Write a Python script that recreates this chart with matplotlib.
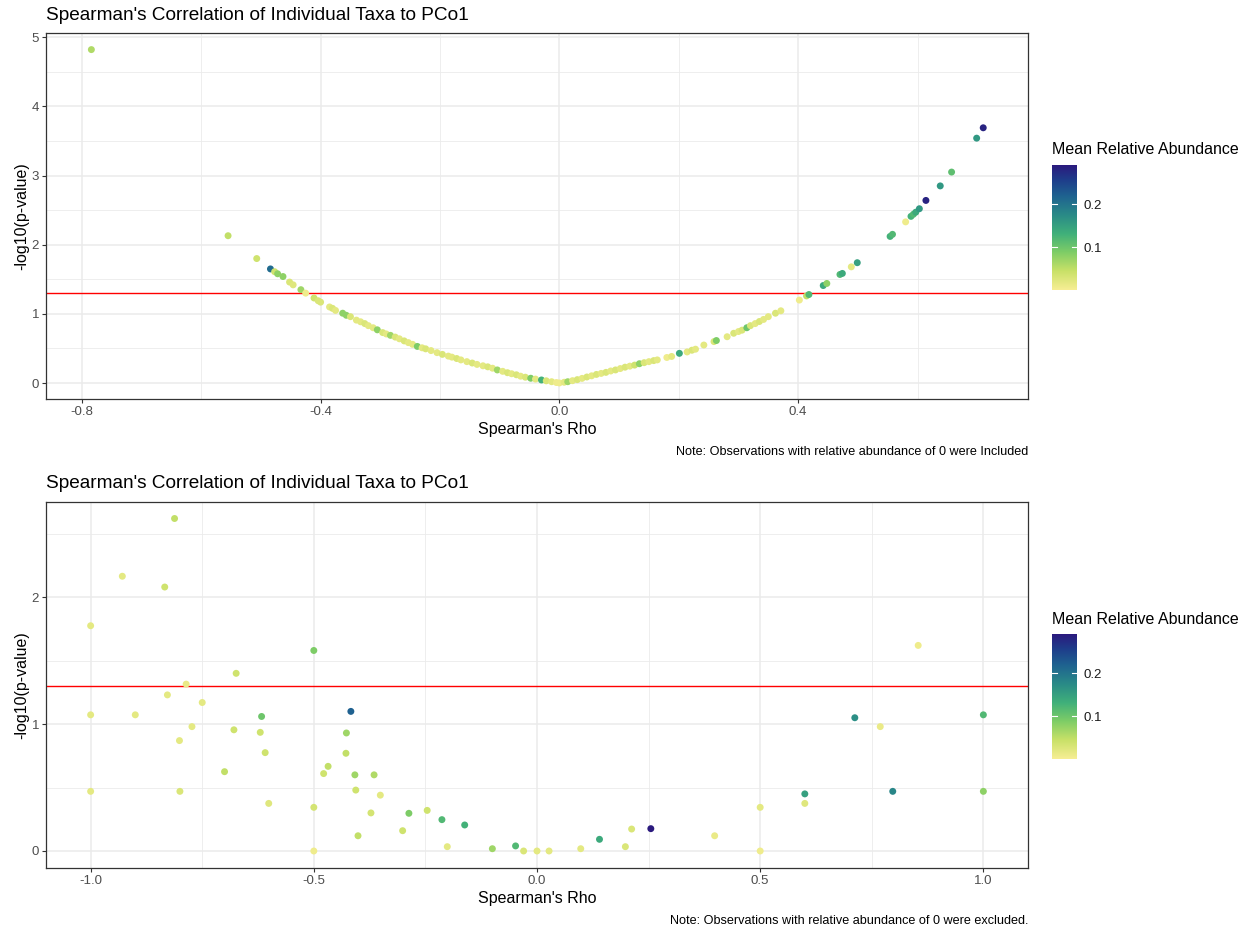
import numpy as np
import matplotlib
matplotlib.use("Agg")
import matplotlib.pyplot as plt
from matplotlib.colors import LinearSegmentedColormap, Normalize

plt.rcParams['font.family'] = ['Liberation Sans', 'DejaVu Sans']

# ---- top panel: zeros included ----
rho_top = [-0.784, -0.555, -0.507, -0.484, -0.477, -0.472, -0.463, -0.452, -0.446, -0.433,
           -0.425, -0.411, -0.404, -0.400, -0.385, -0.380, -0.375, -0.363, -0.357, -0.350,
           -0.340, -0.333, -0.326, -0.320, -0.312, -0.305, -0.296, -0.290, -0.283, -0.275,
           -0.268, -0.260, -0.253, -0.246, -0.238, -0.230, -0.224, -0.215, -0.205, -0.196,
           -0.186, -0.180, -0.172, -0.165, -0.155, -0.146, -0.138, -0.128, -0.120, -0.112,
           -0.104, -0.095, -0.087, -0.080, -0.072, -0.065, -0.057, -0.048, -0.040, -0.030,
           -0.022, -0.013, -0.005, 0.000, 0.008, 0.014, 0.022, 0.030, 0.038, 0.046,
           0.054, 0.062, 0.070, 0.078, 0.086, 0.094, 0.102, 0.110, 0.118, 0.126,
           0.134, 0.142, 0.150, 0.158, 0.164, 0.180, 0.188, 0.201, 0.214, 0.222,
           0.228, 0.242, 0.259, 0.263, 0.281, 0.292, 0.300, 0.306, 0.314, 0.320,
           0.328, 0.335, 0.342, 0.350, 0.362, 0.371, 0.402, 0.414, 0.418, 0.442,
           0.448, 0.470, 0.474, 0.489, 0.499, 0.554, 0.558, 0.580, 0.589, 0.593,
           0.597, 0.603, 0.614, 0.638, 0.657, 0.699, 0.710]
logp_top = [4.82, 2.13, 1.80, 1.65, 1.61, 1.58, 1.54, 1.46, 1.42, 1.35,
            1.30, 1.23, 1.19, 1.17, 1.10, 1.08, 1.05, 1.01, 0.98, 0.96,
            0.91, 0.886, 0.86, 0.83, 0.80, 0.77, 0.73, 0.71, 0.69, 0.665,
            0.64, 0.61, 0.585, 0.56, 0.53, 0.51, 0.495, 0.47, 0.44, 0.415,
            0.39, 0.375, 0.355, 0.335, 0.31, 0.29, 0.27, 0.25, 0.235, 0.215,
            0.19, 0.17, 0.15, 0.135, 0.12, 0.10, 0.085, 0.07, 0.058, 0.045,
            0.033, 0.02, 0.008, 0.002, 0.012, 0.02, 0.035, 0.05, 0.068, 0.088,
            0.105, 0.125, 0.14, 0.155, 0.175, 0.19, 0.21, 0.23, 0.245, 0.26,
            0.28, 0.295, 0.31, 0.325, 0.335, 0.37, 0.385, 0.43, 0.45, 0.475,
            0.49, 0.55, 0.60, 0.615, 0.67, 0.72, 0.745, 0.765, 0.80, 0.83,
            0.86, 0.89, 0.92, 0.96, 1.01, 1.045, 1.20, 1.26, 1.28, 1.41,
            1.44, 1.57, 1.585, 1.68, 1.74, 2.12, 2.15, 2.33, 2.41, 2.44,
            2.47, 2.52, 2.64, 2.85, 3.05, 3.54, 3.69]
abund_top = [0.06, 0.05, 0.04, 0.21, 0.04, 0.08, 0.08, 0.03, 0.025, 0.07,
             0.01, 0.04, 0.03, 0.03, 0.02, 0.03, 0.02, 0.08, 0.08, 0.03,
             0.02, 0.02, 0.03, 0.02, 0.02, 0.08, 0.03, 0.02, 0.07, 0.03,
             0.02, 0.03, 0.02, 0.02, 0.09, 0.02, 0.03, 0.02, 0.02, 0.03,
             0.02, 0.02, 0.03, 0.02, 0.02, 0.03, 0.02, 0.02, 0.03, 0.02,
             0.07, 0.02, 0.03, 0.02, 0.03, 0.02, 0.03, 0.09, 0.02, 0.13,
             0.03, 0.02, 0.01, 0.01, 0.02, 0.07, 0.02, 0.03, 0.02, 0.03,
             0.02, 0.03, 0.02, 0.03, 0.02, 0.03, 0.02, 0.03, 0.02, 0.04,
             0.08, 0.03, 0.02, 0.03, 0.02, 0.01, 0.02, 0.14, 0.02, 0.03,
             0.02, 0.02, 0.03, 0.09, 0.02, 0.03, 0.02, 0.03, 0.10, 0.03,
             0.02, 0.03, 0.02, 0.02, 0.03, 0.02, 0.01, 0.05, 0.12, 0.14,
             0.08, 0.12, 0.14, 0.02, 0.15, 0.13, 0.12, 0.01, 0.13, 0.12,
             0.14, 0.16, 0.28, 0.16, 0.11, 0.16, 0.28]

# ---- bottom panel: zeros excluded ----
rho_bot = [-0.812, -0.929, -0.834, -1.0, -0.5, -0.674, -0.786, -0.828, -0.75, -1.0,
           -0.9, -0.617, -0.417, -0.773, -0.679, -0.801, -0.62, -0.427, -0.609, -0.428,
           -0.468, -0.478, -0.70, -0.408, -0.365, -1.0, -0.80, -0.406, -0.351, -0.601,
           -0.5, -0.372, -0.287, -0.401, -0.301, -0.5, -0.246, -0.213, -0.162, -0.201,
           -0.10, -0.048, -0.03, 0.0, 0.027, 0.098, 0.14, 0.198, 0.212, 0.255,
           0.398, 0.5, 0.5, 0.6, 0.6, 0.712, 0.769, 0.854, 1.0, 0.797, 1.0]
logp_bot = [2.62, 2.165, 2.08, 1.775, 1.58, 1.40, 1.315, 1.23, 1.17, 1.073,
            1.073, 1.06, 1.10, 0.98, 0.955, 0.87, 0.935, 0.93, 0.775, 0.77,
            0.667, 0.61, 0.625, 0.60, 0.60, 0.47, 0.47, 0.48, 0.44, 0.375,
            0.344, 0.30, 0.297, 0.12, 0.16, 0.0, 0.32, 0.247, 0.205, 0.034,
            0.018, 0.04, 0.0, 0.0, 0.0, 0.018, 0.092, 0.034, 0.173, 0.176,
            0.12, 0.344, 0.0, 0.45, 0.375, 1.05, 0.98, 1.62, 1.073, 0.47, 0.47]
abund_bot = [0.05, 0.02, 0.04, 0.02, 0.09, 0.04, 0.015, 0.02, 0.02, 0.02,
             0.02, 0.10, 0.22, 0.02, 0.04, 0.02, 0.04, 0.07, 0.04, 0.05,
             0.05, 0.04, 0.05, 0.07, 0.06, 0.02, 0.03, 0.04, 0.02, 0.025,
             0.035, 0.035, 0.09, 0.05, 0.04, 0.01, 0.04, 0.12, 0.13, 0.02,
             0.07, 0.12, 0.03, 0.02, 0.02, 0.02, 0.14, 0.03, 0.03, 0.29,
             0.015, 0.02, 0.01, 0.15, 0.025, 0.17, 0.015, 0.01, 0.12, 0.18, 0.08]

sig_line = 1.30103
title = "Spearman's Correlation of Individual Taxa to PCo1"
notes = ["Note: Observations with relative abundance of 0 were Included",
         "Note: Observations with relative abundance of 0 were excluded."]

cmap = LinearSegmentedColormap.from_list("vir_r", [
    (0.0, '#f7ee94'), (0.15, '#c9e168'), (0.3, '#7fcd66'), (0.45, '#40b07a'),
    (0.6, '#2a8b87'), (0.75, '#1f6390'), (0.88, '#1e3e8b'), (1.0, '#2b1a7e')])
norm = Normalize(vmin=0.002, vmax=0.29)

W, H = 1251, 932
fig = plt.figure(figsize=(W / 100, H / 100), dpi=100)


def fx(px):
    return px / W


def fy(py):
    return 1 - py / H


panels = [
    dict(rho=rho_top, lp=logp_top, ab=abund_top, top=33, bot=399,
         xlim=(-0.86, 0.785), ylim=(-0.23, 5.06),
         xt=[-0.8, -0.4, 0.0, 0.4], xminor=[-0.6, -0.2, 0.2, 0.6],
         yt=[0, 1, 2, 3, 4, 5], yminor=[0.5, 1.5, 2.5, 3.5, 4.5],
         note=notes[0], cb=(165, 290)),
    dict(rho=rho_bot, lp=logp_bot, ab=abund_bot, top=502, bot=868,
         xlim=(-1.1, 1.1), ylim=(-0.134, 2.75),
         xt=[-1.0, -0.5, 0.0, 0.5, 1.0], xminor=[-0.75, -0.25, 0.25, 0.75],
         yt=[0, 1, 2], yminor=[0.5, 1.5, 2.5],
         note=notes[1], cb=(634, 759)),
]

for p in panels:
    ax = fig.add_axes([fx(46), fy(p['bot']), fx(1028 - 46), (p['bot'] - p['top']) / H])
    for v in p['xminor']:
        ax.axvline(v, color='#ebebeb', lw=0.6, zorder=0)
    for v in p['yminor']:
        ax.axhline(v, color='#ebebeb', lw=0.6, zorder=0)
    for v in p['xt']:
        ax.axvline(v, color='#ebebeb', lw=1.1, zorder=0)
    for v in p['yt']:
        ax.axhline(v, color='#ebebeb', lw=1.1, zorder=0)
    ax.axhline(sig_line, color='red', lw=1.0, zorder=1)
    ax.scatter(p['rho'], p['lp'], c=p['ab'], cmap=cmap, norm=norm, s=25,
               linewidths=0, zorder=2)
    ax.set_xlim(*p['xlim'])
    ax.set_ylim(*p['ylim'])
    ax.set_xticks(p['xt'])
    ax.set_xticklabels(["{:.1f}".format(v) for v in p['xt']])
    ax.set_yticks(p['yt'])
    ax.set_yticklabels([str(v) for v in p['yt']])
    ax.tick_params(colors='#333333', labelcolor='#4d4d4d', labelsize=9.5,
                   length=3, width=0.8, pad=2)
    for s in ax.spines.values():
        s.set_color('#333333')
        s.set_linewidth(0.9)
    ax.set_xlabel("Spearman's Rho", fontsize=11.5, labelpad=3)
    ax.set_ylabel("-log10(p-value)", fontsize=11.5, labelpad=2)

    fig.text(fx(46), fy(p['top'] - 18), title, fontsize=13.7, ha='left', va='center')
    fig.text(fx(1028), fy(p['bot'] + 53), p['note'], fontsize=9.1, ha='right', va='center')

    cb_top, cb_bot = p['cb']
    cax = fig.add_axes([fx(1052), fy(cb_bot), fx(25), (cb_bot - cb_top) / H])
    grad = np.linspace(norm.vmin, norm.vmax, 256).reshape(-1, 1)
    cax.imshow(grad, aspect='auto', origin='lower', cmap=cmap, norm=norm,
               extent=[0, 1, norm.vmin, norm.vmax])
    cax.set_xlim(0, 1)
    cax.set_ylim(norm.vmin, norm.vmax)
    cax.set_xticks([])
    cax.yaxis.tick_right()
    cax.set_yticks([0.1, 0.2])
    cax.set_yticklabels(['0.1', '0.2'])
    cax.tick_params(axis='y', length=0, labelsize=9.5, labelcolor='#1a1a1a', pad=5)
    for v in [0.1, 0.2]:
        cax.plot([0, 0.2], [v, v], color='white', lw=0.8)
        cax.plot([0.8, 1], [v, v], color='white', lw=0.8)
    for s in cax.spines.values():
        s.set_visible(False)
    fig.text(fx(1052), fy(cb_top - 15), "Mean Relative Abundance", fontsize=11.5,
             ha='left', va='center')

fig.savefig("out.png", dpi=100)
